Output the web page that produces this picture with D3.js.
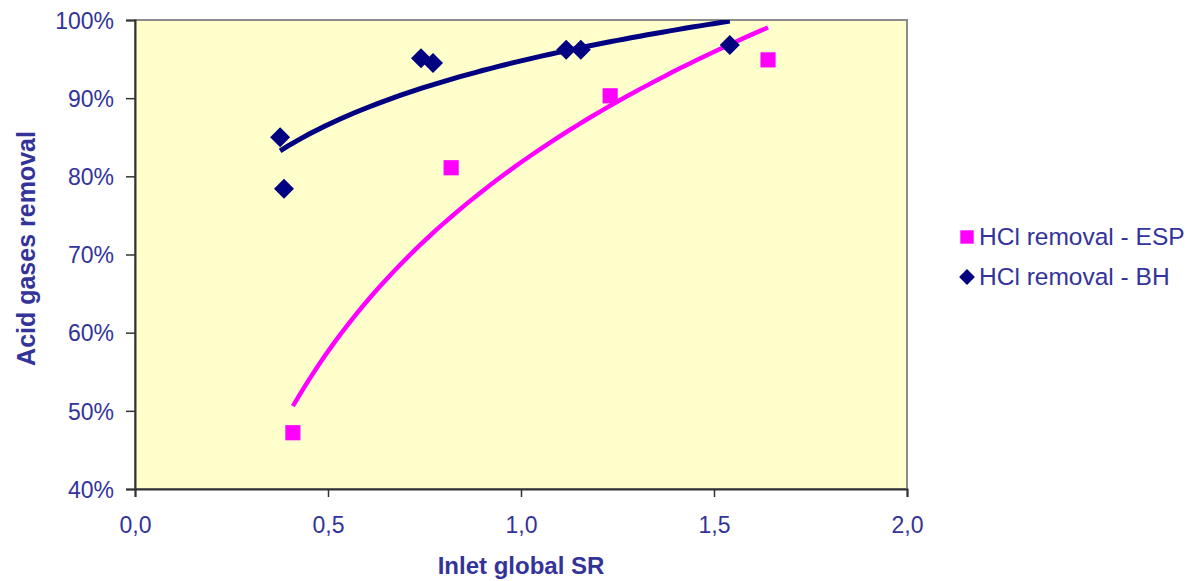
<!DOCTYPE html>
<html>
<head>
<meta charset="utf-8">
<script src="https://cdn.jsdelivr.net/npm/d3@7"></script>
<style>
  body { margin: 0; background: #fff; }
  text { font-family: "Liberation Sans", Arial, sans-serif; fill: #333399; }
</style>
</head>
<body>
<div id="chartDiv"></div>
<script>
// values
var espSR = [0.409, 0.819, 1.231, 1.640];
var espRemoval = [0.472, 0.811, 0.903, 0.949];
var bhSR = [0.376, 0.386, 0.741, 0.772, 1.117, 1.155, 1.541];
var bhRemoval = [0.850, 0.784, 0.951, 0.945, 0.962, 0.962, 0.968];
var xTicks = [0, 0.5, 1.0, 1.5, 2.0];
var yTicks = [0.4, 0.5, 0.6, 0.7, 0.8, 0.9, 1.0];
var seriesNames = ["HCl removal - ESP", "HCl removal - BH"];

var width = 1188, height = 581;
var margin = {top: 20, right: 281, bottom: 92, left: 135};
var plotW = width - margin.left - margin.right,
    plotH = height - margin.top - margin.bottom;

var navy = "#000080", magenta = "#ff00ff";

var locale = d3.formatLocale({decimal: ",", thousands: ".", grouping: [3], currency: ["", ""]});

var x = d3.scaleLinear().domain([0, 2]).range([0, plotW]);
var y = d3.scaleLinear().domain([0.4, 1.0]).range([plotH, 0]);

var svg = d3.select("#chartDiv").append("svg")
    .attr("width", width)
    .attr("height", height);

var g = svg.append("g")
    .attr("transform", "translate(" + margin.left + "," + margin.top + ")");

g.append("rect")
    .attr("width", plotW)
    .attr("height", plotH)
    .attr("fill", "#ffffcc")
    .attr("stroke", "#8c8c8c")
    .attr("stroke-width", 2);

var xAxis = d3.axisBottom(x).tickValues(xTicks).tickFormat(locale.format(".1f")).tickSize(8).tickPadding(20);
var yAxis = d3.axisLeft(y).tickValues(yTicks).tickFormat(d3.format(".0%")).tickSize(9).tickPadding(12);

var gx = g.append("g").attr("transform", "translate(0," + plotH + ")").call(xAxis);
var gy = g.append("g").call(yAxis);

[gx, gy].forEach(function(ax) {
    ax.select(".domain").attr("stroke", "#333").attr("stroke-width", 2);
    ax.selectAll(".tick line").attr("stroke", "#333").attr("stroke-width", 1.5);
    ax.selectAll(".tick text")
        .style("font-family", "'Liberation Sans', Arial, sans-serif")
        .style("font-size", "23px")
        .attr("fill", "#333399");
});
gy.selectAll(".tick text").attr("dy", "0.36em");

// logarithmic trendlines, fitted from the points above
function logFit(xs, ys) {
    var lx = xs.map(Math.log);
    var mx = d3.mean(lx), my = d3.mean(ys);
    var sxy = d3.sum(lx, function(v, i) { return (v - mx) * (ys[i] - my); });
    var sxx = d3.sum(lx, function(v) { return (v - mx) * (v - mx); });
    var b = sxy / sxx, a = my - b * mx;
    var lo = d3.min(xs), hi = d3.max(xs);
    return d3.range(0, 61).map(function(k) {
        var t = lo + (hi - lo) * k / 60;
        return [t, a + b * Math.log(t)];
    });
}

var trend = d3.line()
    .x(function(d) { return x(d[0]); })
    .y(function(d) { return y(d[1]); });

g.append("clipPath").attr("id", "plotClip")
    .append("rect").attr("width", plotW).attr("height", plotH);

g.append("path")
    .datum(logFit(espSR, espRemoval))
    .attr("clip-path", "url(#plotClip)")
    .attr("fill", "none")
    .attr("stroke", magenta)
    .attr("stroke-width", 4.5)
    .attr("d", trend);

g.append("path")
    .datum(logFit(bhSR, bhRemoval))
    .attr("clip-path", "url(#plotClip)")
    .attr("fill", "none")
    .attr("stroke", navy)
    .attr("stroke-width", 5)
    .attr("d", trend);

var diamond = d3.symbol().type(d3.symbolSquare).size(200)();
var square = d3.symbol().type(d3.symbolSquare).size(230)();

g.selectAll(".bh")
    .data(bhSR)
    .enter().append("path")
    .attr("class", "bh")
    .attr("d", diamond)
    .attr("fill", navy)
    .attr("transform", function(d, i) { return "translate(" + x(d) + "," + y(bhRemoval[i]) + ") rotate(45)"; });

g.selectAll(".esp")
    .data(espSR)
    .enter().append("path")
    .attr("class", "esp")
    .attr("d", square)
    .attr("fill", magenta)
    .attr("transform", function(d, i) { return "translate(" + x(d) + "," + y(espRemoval[i]) + ")"; });

// axis titles
svg.append("text")
    .attr("x", margin.left + plotW / 2)
    .attr("y", 574)
    .attr("text-anchor", "middle")
    .style("font-size", "24px")
    .style("font-weight", "bold")
    .text("Inlet global SR");

svg.append("text")
    .attr("transform", "translate(35," + (margin.top + plotH / 2 - 6) + ") rotate(-90)")
    .attr("text-anchor", "middle")
    .style("font-size", "25px")
    .style("font-weight", "bold")
    .text("Acid gases removal");

// legend
var legend = svg.append("g").attr("transform", "translate(967,237)");
var rows = legend.selectAll("g")
    .data(seriesNames)
    .enter().append("g")
    .attr("transform", function(d, i) { return "translate(0," + (i * 40) + ")"; });

rows.append("path")
    .attr("d", function(d, i) { return i === 0 ? d3.symbol().type(d3.symbolSquare).size(180)() : d3.symbol().type(d3.symbolSquare).size(125)(); })
    .attr("transform", function(d, i) { return i === 0 ? "" : "rotate(45)"; })
    .attr("fill", function(d, i) { return i === 0 ? magenta : navy; });

rows.append("text")
    .attr("x", 12)
    .attr("y", 8)
    .style("font-size", "24.5px")
    .text(function(d) { return d; });
</script>
</body>
</html>
